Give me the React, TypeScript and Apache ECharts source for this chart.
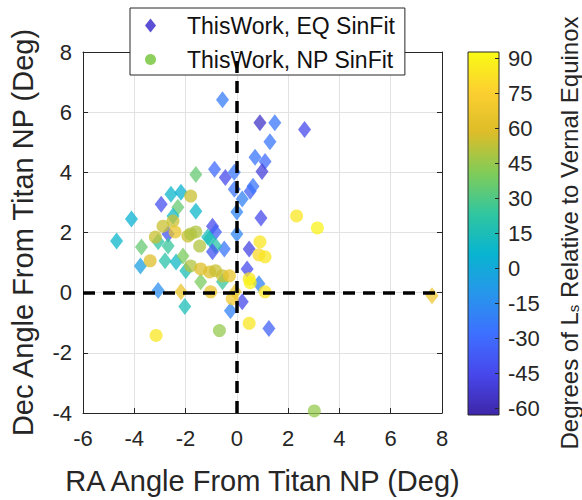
import React, { useEffect, useRef } from 'react';
import * as echarts from 'echarts';

// EQ SinFit points (diamonds)
const eqRA = [
  -0.56, 0.9, 1.48, 2.64, 1.29, 0.71, 1.1, 0.98, -0.87, -0.45, -0.1, -0.1, 0.21, 0.52, 0.63, 0.0, 0.0, 0.94,
  -1.6, -2.57, -2.18, -2.95, -2.3, -2.49, -1.6, -4.11, -4.69, -2.68, -0.95, -0.83, -1.06, -0.49, -0.83, 0.48,
  -3.72, -3.07, -2.8, -2.68, -2.37, -2.1, -1.99, -3.76, -1.14, -0.95, -1.41, -0.56, 0.4, 0.86, -0.06, 0.21,
  -0.25, -3.07, -2.18, -2.03, 1.25, 7.61,
];
const eqDec = [
  6.41, 5.65, 5.65, 5.42, 5.02, 4.5, 4.36, 4.03, 4.1, 3.83, 4.0, 3.44, 3.11, 3.37, 3.54, 2.68, 1.95, 2.48,
  3.93, 3.27, 3.34, 2.94, 2.84, 2.55, 2.71, 2.45, 1.72, 1.95, 2.21, 2.02, 1.79, 1.45, 1.55, 1.45,
  1.52, 1.69, 1.06, 1.55, 1.02, 1.22, 0.73, 0.89, 1.85, 1.36, 0.36, 0.36, 0.79, 0.3, 0.03, -0.3,
  -0.6, 0.07, 0.03, -0.46, -1.19, -0.1,
];
const eqLs = [
  -22, -55, -25, -45, -25, -25, -30, -50, -30, -45, -25, -25, -20, -35, -25, -18, -18, -45,
  35, 8, 5, -42, 35, 10, 8, 5, 8, -40, -45, -35, 15, -25, 20, -48,
  35, 22, 20, 25, 10, 40, 15, -5, 15, -40, 40, 25, -45, -20, 65, -45,
  -20, -15, 65, 15, -35, 68,
];

// NP SinFit points (circles)
const npRA = [
  -1.8, -2.49, -2.88, -2.41, -3.18, -3.38, -1.91, -1.8, -1.6, -1.45, -1.8, -1.41, -1.06, -0.83, -0.56,
  -0.29, 0.9, 0.86, 1.1, 0.48, 0.52, 1.1, -0.18, -1.02, 0.48, -0.68, -3.15, 2.33, 3.14, 3.02,
];
const npDec = [
  3.21, 2.38, 2.21, 2.02, 1.85, 1.06, 1.88, 1.95, 2.02, 1.55, 0.89, 0.79, 0.69, 0.73, 0.56,
  0.56, 1.69, 1.26, 1.19, 0.46, 0.33, 0.03, -0.2, 0.03, -1.02, -1.26, -1.42, 2.55, 2.15, -3.93,
];
const npLs = [
  55, 55, 55, 65, 55, 60, 55, 50, 50, 50, 50, 60, 60, 55, 55,
  65, 85, 80, 85, 85, 90, 85, 70, 65, 85, 45, 85, 85, 90, 45,
];

const colorTicks = [-60, -45, -30, -15, 0, 15, 30, 45, 60, 75, 90];
const lsMin = -63;
const lsMax = 93;

const parula = [
  '#3e26a8', '#4747eb', '#3e6fff', '#2796eb', '#08b4d0',
  '#31c69f', '#80cc59', '#dcbd29', '#fccf30', '#f9fb15',
];

const FONT = '"Liberation Sans", Arial, Helvetica, sans-serif';
const INK = '#262626';

const App: React.FC = () => {
  const chartRef = useRef<HTMLDivElement>(null);

  useEffect(() => {
    document.body.style.margin = '0';
    if (!chartRef.current) return;
    const chart = echarts.init(chartRef.current, undefined, { renderer: 'svg' });

    const eqData = eqRA.map((x, i) => [x, eqDec[i], eqLs[i]]);
    const npData = npRA.map((x, i) => [x, npDec[i], npLs[i]]);

    // top of the bar is the highest value, so walk the colormap backwards
    const gradStops = parula
      .slice()
      .reverse()
      .map((c, i) => ({ offset: i / (parula.length - 1), color: c }));

    const mainAxisCommon = {
      type: 'value' as const,
      axisLine: { show: true, onZero: false, lineStyle: { color: INK, width: 1 } },
      axisTick: { show: true, inside: true, length: 5, lineStyle: { color: INK } },
    };

    chart.setOption({
      animation: false,
      textStyle: { fontFamily: FONT },
      grid: [
        { left: 79, top: 52, width: 363, height: 363 },
        { left: 468, top: 58, width: 31, height: 350 },
      ],
      legend: {
        left: 130,
        top: 8,
        orient: 'vertical',
        backgroundColor: '#ffffff',
        borderColor: INK,
        borderWidth: 1,
        padding: [6, 10, 4, 15],
        itemGap: 11,
        itemWidth: 11,
        itemHeight: 14,
        textStyle: { fontSize: 23, color: '#111', fontFamily: FONT, padding: [0, 0, 0, 26] },
        data: [
          { name: 'ThisWork, EQ SinFit', icon: 'diamond', itemStyle: { color: '#5b4fd6', opacity: 1 } },
          { name: 'ThisWork, NP SinFit', icon: 'circle', itemStyle: { color: '#8ccf5c', opacity: 1 } },
        ],
      },
      xAxis: [
        {
          ...mainAxisCommon,
          gridIndex: 0,
          position: 'bottom',
          min: -6,
          max: 8,
          interval: 2,
          axisLabel: { fontSize: 22, color: INK, margin: 14, fontFamily: FONT },
          splitLine: { show: true, lineStyle: { color: '#e2e2e2', width: 1 } },
          name: 'RA Angle From Titan NP (Deg)',
          nameLocation: 'middle',
          nameGap: 53,
          nameTextStyle: { fontSize: 29, color: INK, fontFamily: FONT },
        },
        {
          ...mainAxisCommon,
          gridIndex: 0,
          position: 'top',
          min: -6,
          max: 8,
          interval: 2,
          axisLabel: { show: false },
          splitLine: { show: false },
        },
        { type: 'value', gridIndex: 1, show: false, min: 0, max: 1 },
      ],
      yAxis: [
        {
          ...mainAxisCommon,
          gridIndex: 0,
          position: 'left',
          min: -4,
          max: 8,
          interval: 2,
          axisLabel: { fontSize: 22, color: INK, margin: 11, fontFamily: FONT },
          splitLine: { show: true, lineStyle: { color: '#e2e2e2', width: 1 } },
          name: 'Dec Angle From Titan NP (Deg)',
          nameLocation: 'middle',
          nameGap: 46,
          nameRotate: 90,
          nameTextStyle: { fontSize: 29, color: INK, fontFamily: FONT },
        },
        {
          ...mainAxisCommon,
          gridIndex: 0,
          position: 'right',
          min: -4,
          max: 8,
          interval: 2,
          axisLabel: { show: false },
          splitLine: { show: false },
        },
        {
          type: 'value',
          gridIndex: 1,
          position: 'right',
          min: colorTicks[0],
          max: colorTicks[colorTicks.length - 1],
          interval: 15,
          z: 10,
          axisLine: { show: false, onZero: false },
          axisTick: { show: true, inside: true, length: 4, lineStyle: { color: INK } },
          axisLabel: { fontSize: 22, color: INK, margin: 9, fontFamily: FONT },
          splitLine: { show: false },
          name: 'Degrees of L{s|s} Relative to Vernal Equinox',
          nameLocation: 'middle',
          nameGap: 58,
          nameRotate: 90,
          nameTextStyle: {
            fontSize: 24,
            color: INK,
            fontFamily: FONT,
            rich: { s: { fontSize: 15, verticalAlign: 'bottom', color: INK, fontFamily: FONT } },
          },
        },
      ],
      visualMap: {
        type: 'continuous',
        show: false,
        min: lsMin,
        max: lsMax,
        dimension: 2,
        seriesIndex: [0, 1],
        inRange: { color: parula },
      },
      graphic: [
        {
          type: 'rect',
          z: 1,
          shape: { x: 468, y: 52, width: 31, height: 363 },
          style: {
            fill: new echarts.graphic.LinearGradient(0, 0, 0, 1, gradStops),
            stroke: INK,
            lineWidth: 1,
          },
        },
      ],
      series: [
        {
          name: 'ThisWork, EQ SinFit',
          type: 'scatter',
          xAxisIndex: 0,
          yAxisIndex: 0,
          symbol: 'diamond',
          symbolSize: [13, 17],
          itemStyle: { color: '#5b4fd6', opacity: 0.75 },
          data: eqData,
          z: 3,
        },
        {
          name: 'ThisWork, NP SinFit',
          type: 'scatter',
          xAxisIndex: 0,
          yAxisIndex: 0,
          symbol: 'circle',
          symbolSize: 13,
          itemStyle: { color: '#8ccf5c', opacity: 0.75 },
          data: npData,
          z: 3,
          markLine: {
            silent: true,
            symbol: 'none',
            label: { show: false },
            lineStyle: { color: '#000', type: [12, 8], width: 3.5, opacity: 1 },
            data: [{ xAxis: 0 }, { yAxis: 0 }],
          },
        },
      ],
    });

    return () => {
      chart.dispose();
    };
  }, []);

  return <div ref={chartRef} style={{ width: 582, height: 500 }} />;
};

export default App;
